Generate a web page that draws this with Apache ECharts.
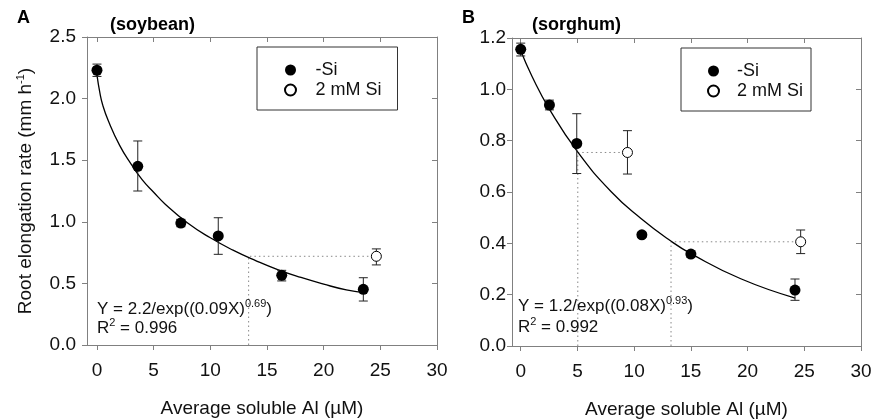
<!DOCTYPE html>
<html>
<head>
<meta charset="utf-8">
<script src="https://cdn.jsdelivr.net/npm/echarts@6.0.0/dist/echarts.min.js"></script>
<style>
  html, body { margin: 0; padding: 0; background: #fff; }
  #chart { width: 872px; height: 419px; }
</style>
</head>
<body>
<div id="chart"></div>
<script>
// * Root elongation vs soluble Al, two panels (soybean / sorghum)

// ? tick labels
const xTicks = [0, 5, 10, 15, 20, 25, 30]

// ? panel A - soybean
const soyAl = [0, 3.6, 7.4, 10.7, 16.3, 23.5]
const soyRate = [2.23, 1.45, 0.99, 0.885, 0.566, 0.452]
const soyLow = [2.18, 1.25, 0.96, 0.736, 0.52, 0.357]
const soyHigh = [2.28, 1.656, 1.02, 1.033, 0.606, 0.546]
const soySiAl = [24.65]
const soySiRate = [0.72]
const soySiLow = [0.65]
const soySiHigh = [0.78]
// fitted curve
const soyFitAl = [0, 0.25, 0.5, 1, 2, 3, 4, 5, 6, 8, 10, 12, 14, 16, 18, 20, 22, 23.5]
const soyFitRate = [2.19, 2.05, 1.95, 1.82, 1.62, 1.47, 1.34, 1.24, 1.145, 0.99, 0.87, 0.77, 0.685, 0.61, 0.548, 0.494, 0.447, 0.425]
// dotted guide
const soyGuideAl = [13.38, 13.38, 24.65]
const soyGuideRate = [0, 0.72, 0.72]

// ? panel B - sorghum
const sorAl = [0, 2.53, 4.94, 10.68, 15.0, 24.18]
const sorRate = [1.156, 0.939, 0.789, 0.433, 0.358, 0.218]
const sorLow = [1.13, 0.92, 0.672, 0.423, 0.346, 0.178]
const sorHigh = [1.18, 0.958, 0.905, 0.443, 0.37, 0.261]
const sorSiAl = [9.41, 24.68]
const sorSiRate = [0.754, 0.406]
const sorSiLow = [0.67, 0.36]
const sorSiHigh = [0.839, 0.452]
const sorFitAl = [0, 1, 2.5, 5, 8, 10.6, 13.2, 15, 19.4, 24.2]
const sorFitRate = [1.15, 1.05, 0.925, 0.757, 0.6, 0.497, 0.41, 0.36, 0.262, 0.187]
const sorGuide1Al = [5.03, 5.03, 9.41]
const sorGuide1Rate = [0, 0.754, 0.754]
const sorGuide2Al = [13.25, 13.25, 24.68]
const sorGuide2Rate = [0, 0.406, 0.406]

const font = 'Liberation Sans, Arial, Helvetica, sans-serif'
const axisColor = '#808080'
const textColor = '#111'

const pairs = (xs, ys) => xs.map((x, i) => [x, ys[i]])
const triples = (xs, lo, hi) => xs.map((x, i) => [x, lo[i], hi[i]])

// error bars with caps
function renderErr (params, api) {
  const x = api.value(0)
  const p1 = api.coord([x, api.value(2)])
  const p2 = api.coord([x, api.value(1)])
  const w = 4.5
  const style = { stroke: '#222', lineWidth: 1 }
  return {
    type: 'group',
    children: [
      { type: 'line', shape: { x1: p1[0], y1: p1[1], x2: p2[0], y2: p2[1] }, style },
      { type: 'line', shape: { x1: p1[0] - w, y1: p1[1], x2: p1[0] + w, y2: p1[1] }, style },
      { type: 'line', shape: { x1: p2[0] - w, y1: p2[1], x2: p2[0] + w, y2: p2[1] }, style }
    ]
  }
}

function bottomX (grid, min) {
  return {
    gridIndex: grid, type: 'value', min: min, max: 30,
    axisLine: { onZero: false, lineStyle: { color: axisColor } },
    axisTick: { customValues: xTicks, length: 5, lineStyle: { color: axisColor } },
    axisLabel: { customValues: xTicks, fontSize: 19, fontFamily: font, color: textColor, margin: 16 },
    splitLine: { show: false },
    name: 'Average soluble Al (µM)',
    nameLocation: 'middle',
    nameGap: 54,
    nameTextStyle: { fontSize: 19, fontFamily: font, color: textColor }
  }
}

function topX (grid, min) {
  return {
    gridIndex: grid, type: 'value', position: 'top', min: min, max: 30,
    axisLine: { onZero: false, lineStyle: { color: axisColor } },
    axisTick: { inside: true, customValues: xTicks, length: 5, lineStyle: { color: axisColor } },
    axisLabel: { show: false },
    splitLine: { show: false }
  }
}

function leftY (grid, max, step, margin) {
  return {
    gridIndex: grid, type: 'value', min: 0, max: max, interval: step,
    axisLine: { show: true, onZero: false, lineStyle: { color: axisColor } },
    axisTick: { show: true, length: 5, lineStyle: { color: axisColor } },
    axisLabel: { fontSize: 19, fontFamily: font, color: textColor, margin: margin, formatter: v => v.toFixed(1) },
    splitLine: { show: false }
  }
}

function rightY (grid, max, step) {
  return {
    gridIndex: grid, type: 'value', position: 'right', min: 0, max: max, interval: step,
    axisLine: { show: true, onZero: false, lineStyle: { color: axisColor } },
    axisTick: { show: true, inside: true, length: 5, lineStyle: { color: axisColor } },
    axisLabel: { show: false },
    splitLine: { show: false }
  }
}

function panelSeries (xi, yi, d) {
  return [
    {
      type: 'line', xAxisIndex: xi, yAxisIndex: yi, data: d.fit,
      smooth: true, showSymbol: false, silent: true,
      lineStyle: { color: '#000', width: 1.3 }, z: 2
    },
    ...d.guides.map(g => ({
      type: 'line', xAxisIndex: xi, yAxisIndex: yi, data: g,
      showSymbol: false, silent: true,
      lineStyle: { color: '#888', width: 1, type: [1.5, 3] }, z: 1
    })),
    { type: 'custom', xAxisIndex: xi, yAxisIndex: yi, renderItem: renderErr, data: d.err, encode: { x: 0, y: [1, 2] }, z: 3 },
    { type: 'custom', xAxisIndex: xi, yAxisIndex: yi, renderItem: renderErr, data: d.errSi, encode: { x: 0, y: [1, 2] }, z: 3 },
    {
      name: '-Si', type: 'scatter', xAxisIndex: xi, yAxisIndex: yi, data: d.pts,
      symbol: 'circle', symbolSize: 11, itemStyle: { color: '#000', opacity: 1 }, z: 4
    },
    {
      name: '2 mM Si', type: 'scatter', xAxisIndex: xi, yAxisIndex: yi, data: d.ptsSi,
      symbol: 'circle', symbolSize: 10, itemStyle: { color: '#fff', borderColor: '#000', borderWidth: 1, opacity: 1 }, z: 4
    }
  ]
}

const chart = echarts.init(document.getElementById('chart'))

const titleStyle = { fontSize: 18, fontWeight: 'bold', fontFamily: font, color: '#000' }
const eqRich = {
  a: { fontSize: 17, fontWeight: 'normal', fontFamily: font, color: textColor, lineHeight: 22 },
  s: { fontSize: 11, fontWeight: 'normal', fontFamily: font, color: textColor, lineHeight: 11, verticalAlign: 'top' }
}
const eqStyle = { fontWeight: 'normal', rich: eqRich }

const legendBase = {
  orient: 'vertical',
  data: ['-Si', '2 mM Si'],
  selectedMode: false,
  icon: 'circle',
  itemHeight: 11,
  itemGap: 2,
  borderColor: '#333',
  borderWidth: 1,
  borderRadius: 0,
  textStyle: { fontSize: 18, fontFamily: font, color: textColor }
}

const option = {
  animation: false,
  backgroundColor: '#fff',
  title: [
    { text: 'A', left: 17, top: 9, padding: 0, textStyle: titleStyle },
    { text: '(soybean)', left: 110, top: 16, padding: 0, textStyle: titleStyle },
    { text: 'B', left: 462, top: 9, padding: 0, textStyle: titleStyle },
    { text: '(sorghum)', left: 532, top: 16, padding: 0, textStyle: titleStyle },
    { text: '{a|Y = 2.2/exp((0.09X)}{s|0.69}{a|)}', left: 97, top: 298, padding: 0, textStyle: eqStyle },
    { text: '{a|R}{s|2}{a| = 0.996}', left: 97, top: 317, padding: 0, textStyle: eqStyle },
    { text: '{a|Y = 1.2/exp((0.08X)}{s|0.93}{a|)}', left: 518, top: 295, padding: 0, textStyle: eqStyle },
    { text: '{a|R}{s|2}{a| = 0.992}', left: 518, top: 316, padding: 0, textStyle: eqStyle }
  ],
  legend: [
    Object.assign({}, legendBase, { left: 257, top: 47, itemWidth: 40, padding: [14, 16, 11, 27] }),
    Object.assign({}, legendBase, { left: 681, top: 48, itemWidth: 37, padding: [14, 8, 11, 26] })
  ],
  grid: [
    { left: 87, top: 37, width: 350, height: 308, outerBoundsMode: 'none' },
    { left: 512, top: 38, width: 349, height: 308, outerBoundsMode: 'none' }
  ],
  xAxis: [bottomX(0, -0.88), topX(0, -0.88), bottomX(1, -0.77), topX(1, -0.77)],
  yAxis: [
    Object.assign(leftY(0, 2.5, 0.5, 11), {
      name: '{a|Root elongation rate (mm h}{s|-1}{a|)}',
      nameLocation: 'middle',
      nameGap: 50,
      nameTextStyle: {
        rich: {
          a: { fontSize: 19, fontFamily: font, color: textColor, lineHeight: 22 },
          s: { fontSize: 11, fontFamily: font, color: textColor, lineHeight: 11, verticalAlign: 'top' }
        }
      }
    }),
    rightY(0, 2.5, 0.5),
    leftY(1, 1.2, 0.2, 6),
    rightY(1, 1.2, 0.2)
  ],
  series: [
    ...panelSeries(0, 0, {
      fit: pairs(soyFitAl, soyFitRate),
      guides: [pairs(soyGuideAl, soyGuideRate)],
      err: triples(soyAl, soyLow, soyHigh),
      errSi: triples(soySiAl, soySiLow, soySiHigh),
      pts: pairs(soyAl, soyRate),
      ptsSi: pairs(soySiAl, soySiRate)
    }),
    ...panelSeries(2, 2, {
      fit: pairs(sorFitAl, sorFitRate),
      guides: [pairs(sorGuide1Al, sorGuide1Rate), pairs(sorGuide2Al, sorGuide2Rate)],
      err: triples(sorAl, sorLow, sorHigh),
      errSi: triples(sorSiAl, sorSiLow, sorSiHigh),
      pts: pairs(sorAl, sorRate),
      ptsSi: pairs(sorSiAl, sorSiRate)
    })
  ]
}

chart.setOption(option)
</script>
</body>
</html>
